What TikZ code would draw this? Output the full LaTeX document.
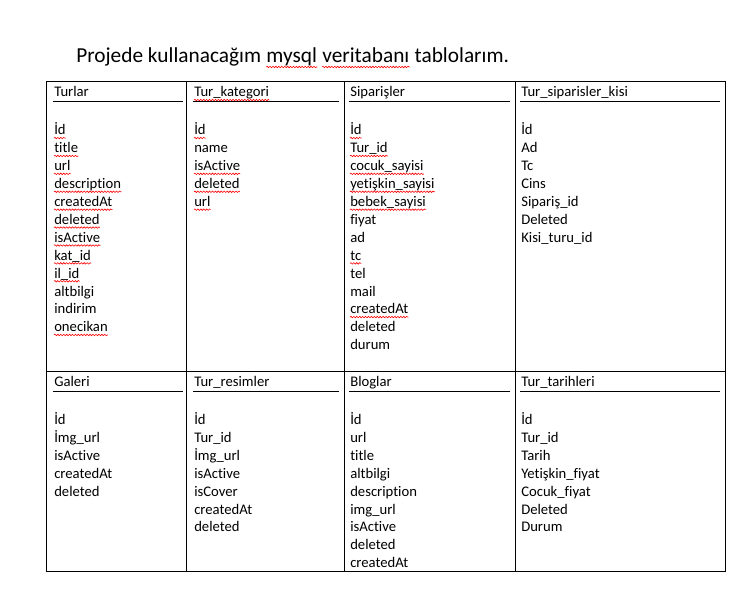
\documentclass[tikz,border=0pt]{standalone}
\usepackage{fontspec}
\setmainfont{Carlito}[Ligatures=NoCommon]
\usetikzlibrary{decorations.pathmorphing}
\newcommand\fieldcol[4]{%
  \foreach \t/\s [count=\i from 0] in {#4}{%
    \node[fld] (#1\i) at (#2,#3+17.9*\i) {\t};
    \ifnum\s=1 \draw[sq] ([yshift=-2.3pt]#1\i.base west) -- ([yshift=-2.3pt]#1\i.base east);\fi
  }}
\begin{document}
\begin{tikzpicture}[x=0.75pt,y=-0.75pt,
  fld/.style={anchor=base west, inner sep=0pt, font=\fontsize{11}{13}\selectfont},
  ttl/.style={anchor=base west, inner sep=0pt, font=\fontsize{16}{19}\selectfont},
  sq/.style={draw=red, line width=0.45pt, decorate, decoration={snake, amplitude=0.55pt, segment length=2.2pt}},
  grid/.style={line width=0.75pt},
  hrule/.style={line width=0.75pt}]
\useasboundingbox (0,0) rectangle (752,605);
% title
\node[ttl] (t1) at (76,63) {Projede kullanacağım};
\node[ttl] (t2) at ([xshift=3.6pt]t1.base east) {mysql};
\node[ttl] (t3) at ([xshift=3.6pt]t2.base east) {veritabanı};
\node[ttl] (t4) at ([xshift=3.6pt]t3.base east) {tablolarım.};
\draw[sq] ([yshift=-3pt]t2.base west) -- ([yshift=-3pt]t2.base east);
\draw[sq] ([yshift=-3pt]t3.base west) -- ([yshift=-3pt]t3.base east);
% table grid
\draw[grid] (46,82) rectangle (725,571);
\draw[grid] (186,82) -- (186,571);
\draw[grid] (344,82) -- (344,571);
\draw[grid] (515,82) -- (515,571);
\draw[grid] (46,371) -- (725,371);
% headers row 1
\node[fld] (h1) at (54,97) {Turlar};
\node[fld] (h2) at (194,97) {Tur\_kategori};
\node[fld] (h3) at (350,97) {Siparişler};
\node[fld] (h4) at (521,97) {Tur\_siparisler\_kisi};
\draw[sq] ([yshift=-2.3pt]h2.base west) -- ([yshift=-2.3pt]h2.base east);
\draw[hrule] (53,102) -- (183,102);
\draw[hrule] (193,102) -- (339,102);
\draw[hrule] (349,102) -- (510,102);
\draw[hrule] (520,102) -- (720,102);
% headers row 2
\node[fld] (g1) at (54,386.5) {Galeri};
\node[fld] (g2) at (194,386.5) {Tur\_resimler};
\node[fld] (g3) at (350,386.5) {Bloglar};
\node[fld] (g4) at (521,386.5) {Tur\_tarihleri};
\draw[hrule] (53,391) -- (183,391);
\draw[hrule] (193,391) -- (339,391);
\draw[hrule] (349,391) -- (510,391);
\draw[hrule] (520,391) -- (720,391);
% fields row 1
\fieldcol{a}{54}{135}{İd/1,title/1,url/1,description/1,createdAt/1,deleted/1,isActive/1,kat\_id/1,il\_id/1,altbilgi/0,indirim/0,onecikan/1}
\fieldcol{b}{194}{135}{İd/1,name/0,isActive/1,deleted/1,url/1}
\fieldcol{c}{350}{135}{İd/1,Tur\_id/1,cocuk\_sayisi/1,yetişkin\_sayisi/1,bebek\_sayisi/1,fiyat/0,ad/0,tc/1,tel/0,mail/0,createdAt/1,deleted/0,durum/0}
\fieldcol{d}{521}{135}{İd/0,Ad/0,Tc/0,Cins/0,Sipariş\_id/0,Deleted/0,Kisi\_turu\_id/0}
% fields row 2
\fieldcol{e}{54}{424.5}{İd/0,İmg\_url/0,isActive/0,createdAt/0,deleted/0}
\fieldcol{f}{194}{424.5}{İd/0,Tur\_id/0,İmg\_url/0,isActive/0,isCover/0,createdAt/0,deleted/0}
\fieldcol{g}{350}{424.5}{İd/0,url/0,title/0,altbilgi/0,description/0,img\_url/0,isActive/0,deleted/0,createdAt/0}
\fieldcol{k}{521}{424.5}{İd/0,Tur\_id/0,Tarih/0,Yetişkin\_fiyat/0,Cocuk\_fiyat/0,Deleted/0,Durum/0}
\end{tikzpicture}
\end{document}
